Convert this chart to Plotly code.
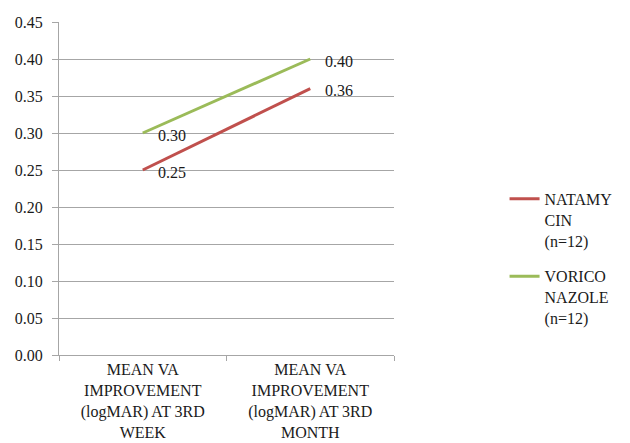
import plotly.graph_objects as go

categories = ["MEAN VA<br>IMPROVEMENT<br>(logMAR) AT 3RD<br>WEEK",
              "MEAN VA<br>IMPROVEMENT<br>(logMAR) AT 3RD<br>MONTH"]
natamycin = [0.25, 0.36]
voriconazole = [0.30, 0.40]
series_names = ["NATAMY<br>CIN<br>(n=12)", "VORICO<br>NAZOLE<br>(n=12)"]
colors = ["#C0504D", "#9BBB59"]
y_ticks = [0.0, 0.05, 0.10, 0.15, 0.20, 0.25, 0.30, 0.35, 0.40, 0.45]

fig = go.Figure()
for i, (name, vals, col) in enumerate(zip(series_names, [natamycin, voriconazole], colors)):
    fig.add_trace(go.Scatter(x=categories, y=vals, mode="lines", name=name,
                             legendgroup=f"g{i}",
                             line=dict(color=col, width=3)))
    for c, v in zip(categories, vals):
        fig.add_annotation(x=c, y=v, text=f"{v:.2f}", showarrow=False,
                           xanchor="left", yanchor="middle", xshift=13, yshift=-2,
                           font=dict(family="Liberation Serif", size=16))

fig.update_layout(
    width=630, height=443,
    margin=dict(l=59, r=233, t=22, b=88),
    paper_bgcolor="white", plot_bgcolor="white",
    font=dict(family="Liberation Serif", size=16, color="#1a1a1a"),
    showlegend=True,
    legend=dict(x=1.33, xanchor="left", y=0.29, yanchor="middle",
                valign="top", tracegroupgap=12),
)
fig.update_xaxes(type="category", range=[-0.5, 1.5], showgrid=False, automargin=False,
                 showline=True, linecolor="#A6A6A6", linewidth=1,
                 ticks="outside", tickson="boundaries", ticklen=5, tickcolor="#A6A6A6")
fig.update_yaxes(range=[0, 0.45], tickvals=y_ticks, tickformat=".2f", automargin=False,
                 showgrid=True, gridcolor="#A6A6A6", gridwidth=1,
                 showline=True, linecolor="#A6A6A6", linewidth=1,
                 ticks="outside", ticklen=6, tickcolor="#A6A6A6",
                 ticklabelstandoff=6, zeroline=False)
fig.write_html("out.html")
